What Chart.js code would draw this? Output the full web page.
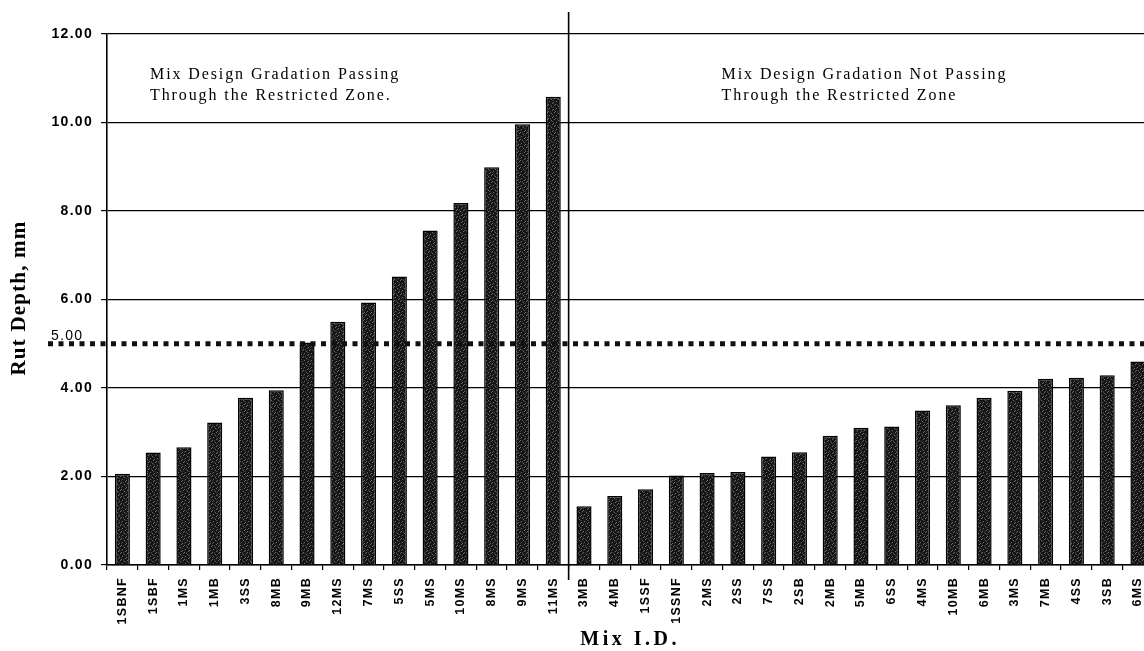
<!DOCTYPE html>
<html>
<head>
<meta charset="utf-8">
<script src="https://cdn.jsdelivr.net/npm/chart.js@4.4.1/dist/chart.umd.min.js"></script>
<style>
  html, body { margin: 0; padding: 0; background: #fff; overflow: hidden; }
  #wrap { width: 1160px; height: 651px; }
</style>
</head>
<body>
<div id="wrap"><canvas id="rut" width="1160" height="651"></canvas></div>
<script>
// Mixes whose gradation passes through the restricted zone
const passingMixes = ['1SBNF', '1SBF', '1MS', '1MB', '3SS', '8MB', '9MB', '12MS',
  '7MS', '5SS', '5MS', '10MS', '8MS', '9MS', '11MS'];
const passingDepths = [2.06, 2.54, 2.66, 3.22, 3.78, 3.95, 5.03, 5.50,
  5.93, 6.52, 7.56, 8.18, 8.99, 9.96, 10.58];

// Mixes whose gradation does not pass through the restricted zone
const notPassingMixes = ['3MB', '4MB', '1SSF', '1SSNF', '2MS', '2SS', '7SS', '2SB',
  '2MB', '5MB', '6SS', '4MS', '10MB', '6MB', '3MS', '7MB', '4SS', '3SB', '6MS'];
const notPassingDepths = [1.33, 1.56, 1.71, 2.02, 2.08, 2.10, 2.45, 2.55,
  2.92, 3.10, 3.13, 3.49, 3.61, 3.78, 3.94, 4.21, 4.23, 4.29, 4.60];

// Rut depth axis ticks (mm) and the acceptance criterion
const depthTicks = [0, 2, 4, 6, 8, 10, 12];
const criterionDepth = 5.00;

const passingNote = ['Mix Design Gradation Passing', 'Through the Restricted Zone.'];
const notPassingNote = ['Mix Design Gradation Not Passing', 'Through the Restricted Zone'];

const mixLabels = passingMixes.concat(notPassingMixes);
const rutDepths = passingDepths.concat(notPassingDepths);

// stippled dark fill for the bars
function stipple() {
  const t = document.createElement('canvas');
  t.width = 7; t.height = 7;
  const g = t.getContext('2d');
  g.fillStyle = '#151515';
  g.fillRect(0, 0, 7, 7);
  g.fillStyle = '#6e6e6e';
  [[1, 0], [5, 1], [3, 3], [0, 4], [6, 5], [2, 6]].forEach(([x, y]) => g.fillRect(x, y, 1, 1));
  g.fillStyle = '#3a3a3a';
  [[4, 0], [0, 2], [6, 2], [2, 4], [4, 6]].forEach(([x, y]) => g.fillRect(x, y, 1, 1));
  return g.createPattern(t, 'repeat');
}

const SPACING = '1.3px';

const decorations = {
  id: 'decorations',
  beforeLayout(chart) { chart.ctx.letterSpacing = SPACING; },
  beforeDraw(chart) {
    const ctx = chart.ctx;
    ctx.save();
    ctx.fillStyle = '#fff';
    ctx.fillRect(0, 0, chart.width, chart.height);
    ctx.restore();
    ctx.letterSpacing = SPACING;
  },
  afterDatasetsDraw(chart) {
    const ctx = chart.ctx;
    const y = chart.scales.y.getPixelForValue(criterionDepth);
    ctx.save();
    ctx.strokeStyle = '#111';
    ctx.lineWidth = 5;
    ctx.setLineDash([5, 5.5]);
    ctx.beginPath();
    ctx.moveTo(48, y);
    ctx.lineTo(chart.width, y);
    ctx.stroke();
    ctx.setLineDash([]);
    ctx.fillStyle = '#000';
    ctx.letterSpacing = '1.3px';
    ctx.font = '14px "Liberation Sans", Arial, sans-serif';
    ctx.textAlign = 'left';
    ctx.textBaseline = 'alphabetic';
    ctx.fillText(criterionDepth.toFixed(2), 51, y - 4);
    ctx.restore();
  },
  afterDraw(chart) {
    const ctx = chart.ctx;
    const area = chart.chartArea;
    const xs = chart.scales.x;
    const split = passingMixes.length;
    const divX = (xs.getPixelForTick(split - 1) + xs.getPixelForTick(split)) / 2;

    ctx.save();
    // group divider
    ctx.strokeStyle = '#000';
    ctx.lineWidth = 1.6;
    ctx.beginPath();
    ctx.moveTo(divX, area.top - 22);
    ctx.lineTo(divX, area.bottom + 15);
    ctx.stroke();

    // group notes
    ctx.fillStyle = '#000';
    ctx.font = '16px "Liberation Serif", "Times New Roman", serif';
    ctx.letterSpacing = '1.9px';
    ctx.textAlign = 'left';
    ctx.textBaseline = 'alphabetic';
    passingNote.forEach((s, i) => ctx.fillText(s, area.left + 43, area.top + 45 + i * 21));
    notPassingNote.forEach((s, i) => ctx.fillText(s, divX + 153, area.top + 45 + i * 21));

    // axis titles
    ctx.font = 'bold 20px "Liberation Serif", "Times New Roman", serif';
    ctx.letterSpacing = '3.5px';
    ctx.textAlign = 'center';
    ctx.textBaseline = 'middle';
    ctx.fillText('Mix I.D.', (area.left + area.right) / 2, 640);

    ctx.font = 'bold 21px "Liberation Serif", "Times New Roman", serif';
    ctx.letterSpacing = '1.2px';
    ctx.translate(20, 298);
    ctx.rotate(-Math.PI / 2);
    ctx.fillText('Rut Depth, mm', 0, 0);
    ctx.restore();
  }
};

new Chart(document.getElementById('rut'), {
  type: 'bar',
  data: {
    labels: mixLabels,
    datasets: [{
      data: rutDepths,
      backgroundColor: stipple(),
      borderColor: '#000',
      borderWidth: 1.5,
      categoryPercentage: 1,
      barPercentage: 0.49
    }]
  },
  options: {
    responsive: false,
    animation: false,
    devicePixelRatio: 1,
    layout: { autoPadding: false, padding: { left: 0, right: 3, top: 34, bottom: 0 } },
    plugins: { legend: { display: false }, tooltip: { enabled: false } },
    scales: {
      x: {
        afterFit(s) { s.height = 86; },
        grid: { drawOnChartArea: false, drawTicks: true, tickLength: 5, color: '#000', lineWidth: 1.2, offset: true },
        border: { display: true, color: '#000', width: 1.6 },
        ticks: {
          autoSkip: false, maxRotation: 90, minRotation: 90, padding: 7,
          color: '#000',
          font: { family: '"Liberation Sans", Arial, sans-serif', size: 12.5, weight: 'bold' }
        }
      },
      y: {
        min: 0, max: 12,
        afterFit(s) { s.width = 107; },
        afterBuildTicks(s) { s.ticks = depthTicks.map(v => ({ value: v })); },
        grid: { drawOnChartArea: true, drawTicks: true, tickLength: 6, color: '#000', lineWidth: 1.2 },
        border: { display: true, color: '#000', width: 1.6 },
        ticks: {
          padding: 8, color: '#000',
          callback: v => Number(v).toFixed(2),
          font: { family: '"Liberation Sans", Arial, sans-serif', size: 14, weight: 'bold' }
        }
      }
    }
  },
  plugins: [decorations]
});
</script>
</body>
</html>
